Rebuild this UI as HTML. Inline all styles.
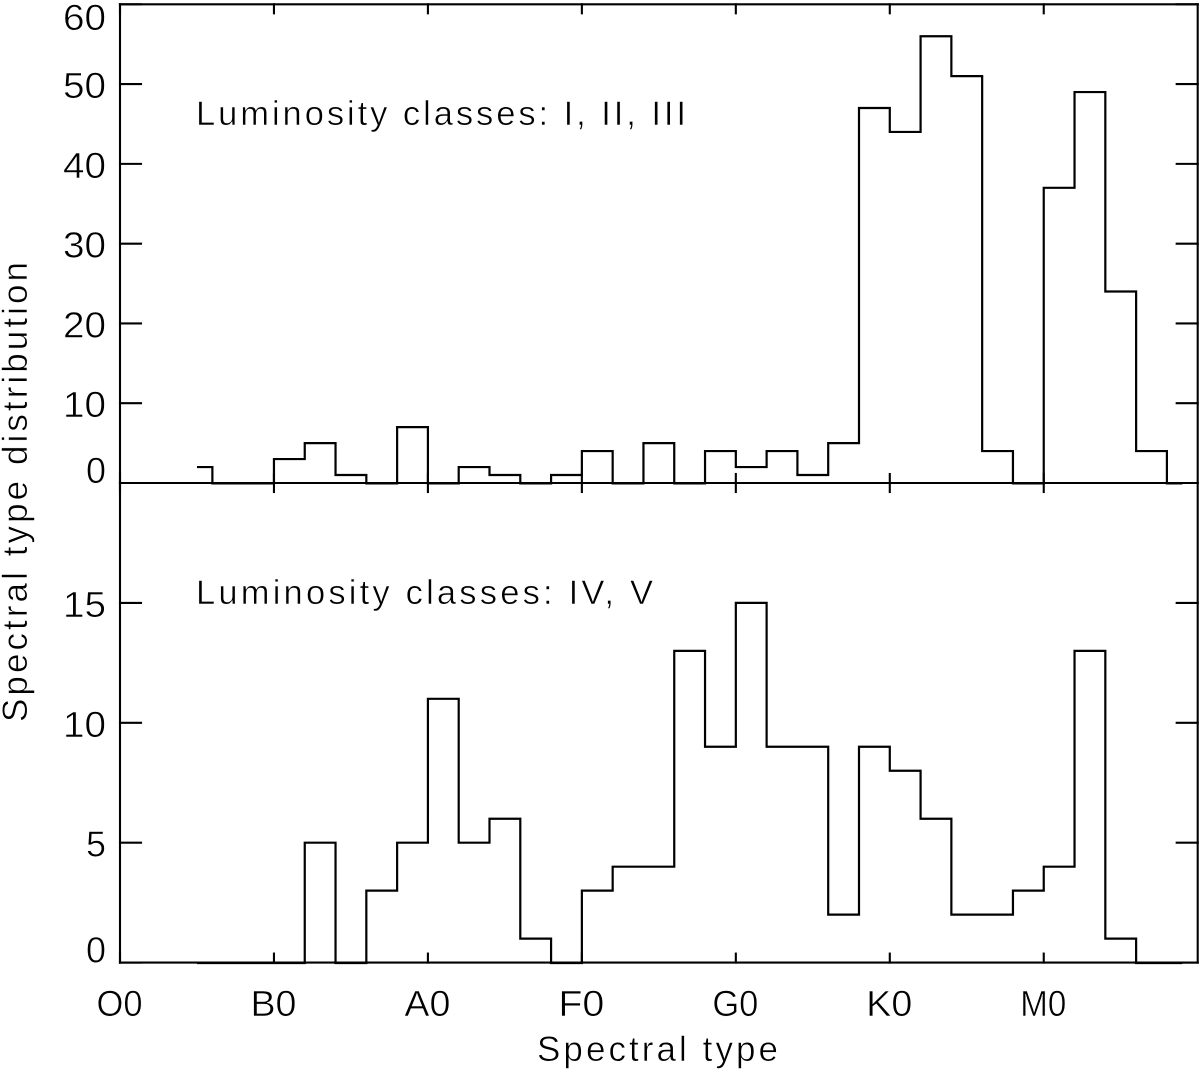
<!DOCTYPE html>
<html lang="en">
<head>
<meta charset="utf-8">
<title>Spectral type distribution</title>
<style>
html,body{margin:0;padding:0;background:#fff;}
svg{display:block;}
text{font-family:"Liberation Sans",sans-serif;fill:#000;stroke:#fff;stroke-width:0.55px;}
</style>
</head>
<body>
<svg id="chart" xmlns="http://www.w3.org/2000/svg" width="1200" height="1074" viewBox="0 0 1200 1074">
  <rect x="0" y="0" width="1200" height="1074" fill="#fff"/>
  <text x="196" y="125" font-size="34.5" textLength="490" lengthAdjust="spacing">Luminosity classes: I, II, III</text>
  <text x="196" y="604" font-size="34.5" textLength="457" lengthAdjust="spacing">Luminosity classes: IV, V</text>
  <text x="537" y="1061" font-size="35" textLength="241" lengthAdjust="spacing">Spectral type</text>
  <text transform="translate(27 722) rotate(-90)" x="0" y="0" font-size="35" textLength="460" lengthAdjust="spacing">Spectral type distribution</text>
</svg>
<script>
// Histogram data: counts per 2-subtype bin, first bin centred on subtype 5
var firstBinCenter = 5;
var binWidth = 2;
var topCounts = [2,0,0,3,5,1,0,7,0,2,1,0,1,4,0,5,0,4,2,4,1,5,47,44,56,51,4,0,37,49,24,4,0];
var bottomCounts = [0,0,0,0,5,0,3,5,11,5,6,1,0,3,4,4,13,9,15,9,9,2,9,8,6,2,2,3,4,13,1,0,0];
var xTickLabels = ['O0','B0','A0','F0','G0','K0','M0'];
var xTickValues = [0,10,20,30,40,50,60];
var topYTicks = [0,10,20,30,40,50,60];
var bottomYTicks = [0,5,10,15];

var NS = 'http://www.w3.org/2000/svg';
var svg = document.getElementById('chart');
var left = 120, right = 1197.7, topY = 4.3, midY = 483, botY = 962.6;

function xScale(v){ return left + (v / 70) * (right - left); }
function yTop(v){ return midY - (v / 60) * (midY - topY); }
function yBottom(v){ return botY - (v / 20) * (botY - midY); }

function line(x1, y1, x2, y2, name){
  var el = document.createElementNS(NS, 'line');
  el.setAttribute('x1', x1);
  el.setAttribute('y1', y1);
  el.setAttribute('x2', x2);
  el.setAttribute('y2', y2);
  el.setAttribute('stroke', '#000');
  el.setAttribute('stroke-width', '2.1');
  el.setAttribute('stroke-linecap', 'square');
  
  
  svg.appendChild(el);
}

function label(str, x, y, anchor, name, fit){
  var t = document.createElementNS(NS, 'text');
  t.setAttribute('x', x);
  t.setAttribute('y', y);
  t.setAttribute('font-size', '36');
  t.setAttribute('text-anchor', anchor);
  if (fit) {
    t.setAttribute('textLength', fit);
    t.setAttribute('lengthAdjust', 'spacingAndGlyphs');
  }
  t.textContent = str;
  
  
  svg.appendChild(t);
}

function histogram(counts, yFn, name){
  var d = '';
  counts.forEach(function(c, i){
    var center = firstBinCenter + i * binWidth;
    var x0 = i === 0 ? xScale(center) : xScale(center - binWidth / 2);
    var x1 = i === counts.length - 1 ? xScale(center) : xScale(center + binWidth / 2);
    var y = yFn(c) + (c === 0 ? 0.4 : 0);
    d += (i === 0 ? 'M' : 'L') + x0 + ' ' + y + 'L' + x1 + ' ' + y;
  });
  var p = document.createElementNS(NS, 'path');
  p.setAttribute('d', d);
  p.setAttribute('fill', 'none');
  p.setAttribute('stroke', '#000');
  p.setAttribute('stroke-width', '2.2');
  p.setAttribute('stroke-linejoin', 'miter');
  
  
  svg.appendChild(p);
}

// Panel frames
line(left, topY, right, topY, 'top-panel-top-axis');
line(left, midY, right, midY, 'panel-divider-axis');
line(left, botY, right, botY, 'bottom-panel-x-axis');
line(left, topY, left, botY, 'left-axis');
line(right, topY, right, botY, 'right-axis');

// X ticks on every horizontal axis
xTickValues.forEach(function(v, i){
  var x = xScale(v);
  line(x, topY, x, topY + 9, 'top-x-tick');
  line(x, midY, x, midY - 9, 'mid-x-tick-up');
  line(x, midY, x, midY + 9, 'mid-x-tick-down');
  line(x, botY, x, botY - 9, 'bottom-x-tick');
  label(xTickLabels[i], x - 0.5, 1016, 'middle', 'x-tick-label', 46);
});

// Top panel Y ticks
topYTicks.forEach(function(v){
  var y = yTop(v);
  line(left, y, left + 21, y, 'top-left-y-tick');
  line(right, y, right - 21, y, 'top-right-y-tick');
  var base = v === 0 ? y : (v === 60 ? y + 25.5 : y + 14);
  label(String(v), 106, base, 'end', 'top-y-tick-label', String(v).length > 1 ? 43 : 20);
});

// Bottom panel Y ticks
bottomYTicks.forEach(function(v){
  var y = yBottom(v);
  line(left, y, left + 21, y, 'bottom-left-y-tick');
  line(right, y, right - 21, y, 'bottom-right-y-tick');
  var base = v === 0 ? y : y + 14;
  label(String(v), 106, base, 'end', 'bottom-y-tick-label', String(v).length > 1 ? 43 : 20);
});

histogram(topCounts, yTop, 'top-histogram-series');
histogram(bottomCounts, yBottom, 'bottom-histogram-series');
</script>
</body>
</html>
